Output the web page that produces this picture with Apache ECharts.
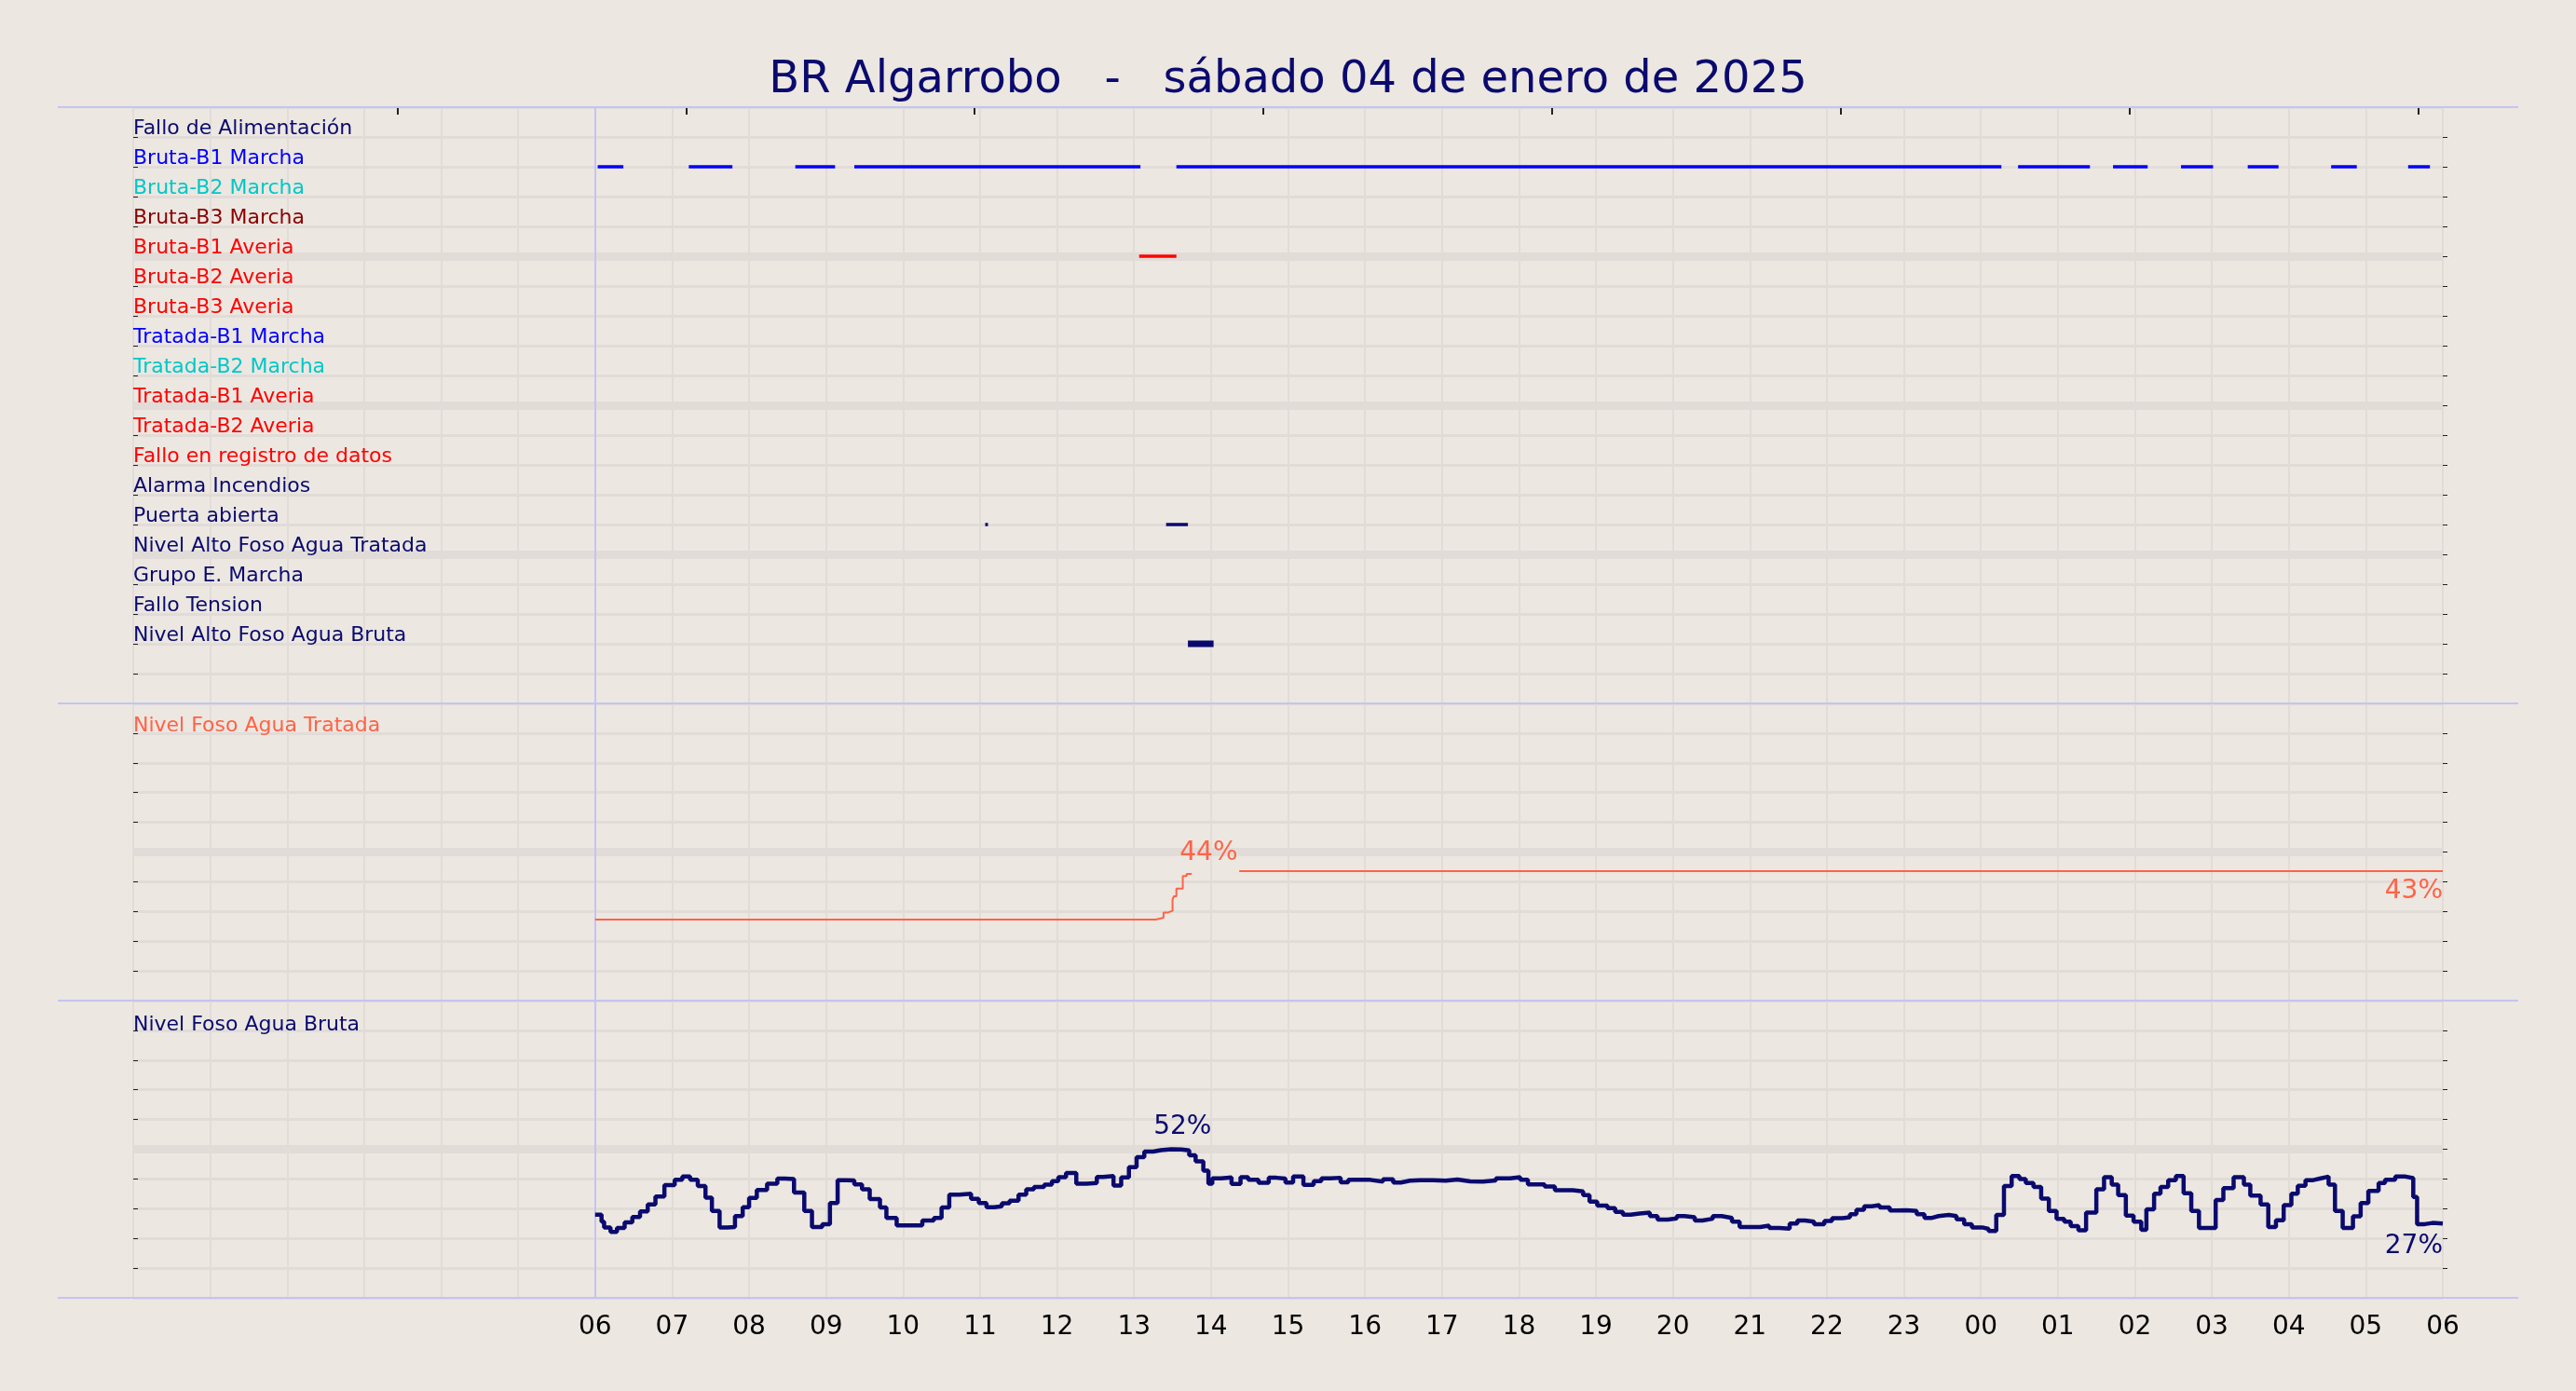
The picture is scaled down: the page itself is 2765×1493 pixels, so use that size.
<!DOCTYPE html>
<html><head><meta charset="utf-8">
<script src="https://cdn.jsdelivr.net/npm/echarts@6/dist/echarts.min.js"></script>
<style>html,body{margin:0;padding:0;background:#ece7e1}#c{width:2765px;height:1493px}</style>
</head><body><div id="c"></div>
<script>
const titleText = 'BR Algarrobo   -   sábado 04 de enero de 2025';
const rowLabels = ['Fallo de Alimentación','Bruta-B1 Marcha','Bruta-B2 Marcha','Bruta-B3 Marcha','Bruta-B1 Averia','Bruta-B2 Averia','Bruta-B3 Averia','Tratada-B1 Marcha','Tratada-B2 Marcha','Tratada-B1 Averia','Tratada-B2 Averia','Fallo en registro de datos','Alarma Incendios','Puerta abierta','Nivel Alto Foso Agua Tratada','Grupo E. Marcha','Fallo Tension','Nivel Alto Foso Agua Bruta'];
const rowColors = ['#0a0a6e','#0000ff','#00c8c8','#8b0000','#ff0000','#ff0000','#ff0000','#0000ff','#00c8c8','#ff0000','#ff0000','#ff0000','#0a0a6e','#0a0a6e','#0a0a6e','#0a0a6e','#0a0a6e','#0a0a6e'];
// events: [row label index, start, end, thick]
const eventRows = [1,1,1,1,1,1,1,1,1,1,1,4,13,13,17];
const eventStart = ['06:02','07:13','08:36','09:22','13:33','00:29','01:43','02:36','03:28','04:33','05:33','13:04','11:04','13:25','13:42'];
const eventEnd   = ['06:22','07:47','09:07','13:05','00:16','01:25','02:10','03:01','03:52','04:53','05:50','13:33','11:05','13:42','14:02'];
const eventThick = [0,0,0,0,0,0,0,0,0,0,0,0,0,0,1];

const tratadaTimes = ['06:00','13:17','13:23','13:26','13:30','13:31','13:33','13:38','13:41','13:45',null,'14:22','06:00'];
const tratadaValues = [27.3,27.9,29.6,30.2,34,35.1,37.7,41.9,42.6,42.6,null,43.6,43.6];
const tratadaLabels = ['44%','43%'];

const brutaMinutes = [0,5,7,12,17,23,29,35,41,47,54,62,68,74,80,86,91,97,103,109,115,120,126,134,142,148,155,163,169,177,183,189,196,202,208,214,222,227,235,243,255,264,270,276,284,293,299,305,311,317,323,330,336,342,350,356,361,367,375,383,391,396,404,410,416,422,428,435,441,449,457,463,468,474,478,481,488,496,503,509,517,525,531,538,544,552,560,566,573,581,587,595,604,614,622,628,635,643,653,663,672,682,692,702,713,721,727,733,740,748,754,762,770,775,781,789,795,801,807,814,822,828,836,843,849,857,863,871,878,886,892,900,908,915,923,931,937,943,950,958,964,972,978,983,989,995,1001,1009,1014,1022,1030,1036,1042,1047,1055,1061,1067,1073,1081,1086,1092,1098,1104,1110,1115,1121,1127,1133,1139,1145,1150,1156,1162,1170,1176,1182,1187,1193,1199,1205,1209,1215,1220,1226,1232,1238,1244,1250,1255,1263,1269,1277,1285,1290,1298,1304,1310,1316,1322,1327,1333,1339,1345,1351,1356,1362,1370,1376,1382,1390,1395,1403,1411,1417,1420,1426,1432,1440];
const brutaValues = [30,27.6,25.7,24.2,25.5,27.4,29.2,31.1,33.4,36.1,39.9,41.7,42.8,41.7,39.6,35.7,31.2,25.7,25.8,29.5,32.5,35.6,38.3,40.4,42.1,42.0,37.4,31.2,25.8,26.8,33.9,41.6,41.5,40.2,38.5,35.2,32.4,28.9,26.4,26.4,28,28.9,32.4,36.7,37,35.3,33.9,32.5,32.8,33.8,34.7,36.7,38.5,39.3,40.1,41.3,42.6,44.0,40.4,40.6,42.7,43,39.8,42.5,46,49.3,51.2,51.7,52,51.9,51.6,50,47.9,44.8,40.4,42.2,42.5,40.3,42.6,41.7,40.7,42.4,42.1,40.8,42.8,40,41.3,42.2,42.4,40.9,41.7,41.7,41.1,41.9,40.8,41.4,41.6,41.6,41.4,41.8,41.2,41.1,41.5,42.2,42.6,41.7,40.2,40.2,39.5,38.2,38.2,37.8,36.6,34.4,33,32.2,30.9,30,30.4,30.7,29.5,28.3,28.7,29.5,29.1,28,28.6,29.5,28.9,27.6,25.8,25.8,26.3,25.5,25.3,27,28,27.6,26.8,27.9,28.8,29.1,30.1,31.6,32.8,33.2,32.4,31.4,31.5,31.2,30.1,28.9,29.5,29.9,29.5,28.4,26.8,25.7,25.2,24.5,29.9,39.6,43,42,40.6,39.3,35.4,31.25,28.6,27.6,26.1,24.7,30.7,38.5,42.6,40.1,36.6,29.7,27.6,24.9,31.8,37,39.3,41.6,43,37.2,31.25,25.5,25.5,34.9,38.9,42.6,40.1,36.4,33.4,25.8,28.1,33.2,37,39.7,41.6,42.2,42.8,40.1,31.25,25.5,29.4,33.9,38,40.6,41.7,42.8,42.3,35.9,26.8,27.2,27];
const brutaLabels = ['52%','27%'];
const topTickHours = [3.43,7.18,10.93,14.68,18.43,22.18,25.93,29.68];

function toHour(t){ const [h,m]=t.split(':').map(Number); return (h<6?h+24:h)+m/60; }
const navy = '#0a0a6e', tomato = '#ff6347', lav = '#c4c4f2', gridC = '#e1dcd8';

const evData = eventRows.map((r,i)=>[toHour(eventStart[i]), toHour(eventEnd[i]), 19-r, eventThick[i], r]);
const tratadaData = tratadaTimes.map((t,i)=> t===null ? '-' : [ (i===tratadaTimes.length-1)?30:toHour(t), tratadaValues[i]]);
tratadaData[0][0]=6;
const brutaData = brutaMinutes.map((m,i)=>[6+m/60, brutaValues[i]]);

const rich = {}; rowColors.forEach((c,i)=>{ rich['r'+i] = {color:c, fontSize:22, fontFamily:'DejaVu Sans', lineHeight:18}; });

const grids = [{top:115,height:640},{top:755,height:319},{top:1074,height:319}].map(g=>({left:143,width:2479,top:g.top,height:g.height}));
function xAx(i){ return {type:'value',gridIndex:i,min:0,max:30,interval:1,
  axisLine:{show:false},axisTick:{show:false},
  axisLabel:{show:i===2,fontSize:28,color:'#000',fontFamily:'DejaVu Sans',margin:18,formatter:v=> v<6?'':String(v%24).padStart(2,'0')},
  splitLine:{show:true,lineStyle:{color:gridC,width:2}}}; }
function yAx(i,min,max,interval){ return {type:'value',gridIndex:i,min:min,max:max,interval:interval,
  axisLine:{show:false},axisTick:{show:true,inside:true,length:5,lineStyle:{color:'#222'}},axisLabel:{show:false},
  splitLine:{show:true,lineStyle:{color:gridC,width:3}}}; }
function yR(i,min,max,interval){ return {type:'value',gridIndex:i,min:min,max:max,interval:interval,position:'right',
  axisLine:{show:false},axisTick:{show:true,length:5,lineStyle:{color:'#222'}},axisLabel:{show:false},splitLine:{show:false}}; }
const labelAxis = {type:'value',gridIndex:0,min:0,max:20,interval:1,z:10,position:'left',
  axisLine:{show:false},axisTick:{show:false},splitLine:{show:false},
  axisLabel:{show:true,inside:true,verticalAlign:'bottom',margin:0,formatter:v=>{const k=19-v; return (k>=0&&k<rowLabels.length&&v>=2)?'{r'+k+'|'+rowLabels[k]+'}':'';},rich:rich}};
const thickSeries = (i,vals)=>({type:'line',xAxisIndex:i,yAxisIndex:i,data:[],z:1,markLine:{silent:true,symbol:'none',label:{show:false},lineStyle:{color:gridC,width:9,type:'solid'},data:vals.map(v=>({yAxis:v}))}});
const sixSeries = (i)=>({type:'line',xAxisIndex:i,yAxisIndex:i,data:[],z:1,markLine:{silent:true,symbol:'none',label:{show:false},lineStyle:{color:lav,width:2,type:'solid'},data:[{xAxis:6}]}});
const topTickSeries = {type:'line',xAxisIndex:0,yAxisIndex:0,data:[],z:1,markLine:{silent:true,symbol:'none',label:{show:false},lineStyle:{color:'#222',width:2,type:'solid'},
  data:topTickHours.map(h=>[{coord:[h,20]},{coord:[h,19.75]}])}};

const chart = echarts.init(document.getElementById('c'));
chart.setOption({
  backgroundColor:'#ece7e1', animation:false,
  title:{text:titleText,left:'center',top:58,textStyle:{fontSize:48,fontWeight:'normal',color:navy,fontFamily:'DejaVu Sans'}},
  grid:grids,
  xAxis:[xAx(0),xAx(1),xAx(2)],
  yAxis:[yAx(0,0,20,1),yAx(1,0,100,10),yAx(2,2,102,10),yR(0,0,20,1),yR(1,0,100,10),yR(2,2,102,10),labelAxis],
  graphic:[
    {type:'line',z:50,shape:{x1:62,y1:115,x2:2703,y2:115},style:{stroke:lav,lineWidth:2}},
    {type:'line',z:50,shape:{x1:62,y1:755,x2:2703,y2:755},style:{stroke:lav,lineWidth:2}},
    {type:'line',z:50,shape:{x1:62,y1:1074,x2:2703,y2:1074},style:{stroke:lav,lineWidth:2}},
    {type:'line',z:50,shape:{x1:62,y1:1393,x2:2703,y2:1393},style:{stroke:lav,lineWidth:2}},
    {type:'text',z:100,left:143,top:768,style:{text:'Nivel Foso Agua Tratada',fill:tomato,fontSize:22,fontFamily:'DejaVu Sans'}},
    {type:'text',z:100,left:143,top:1089,style:{text:'Nivel Foso Agua Bruta',fill:navy,fontSize:22,fontFamily:'DejaVu Sans'}}
  ],
  series:[
    thickSeries(0,[15,10,5]), thickSeries(1,[50]), thickSeries(2,[52]),
    sixSeries(0), sixSeries(1), sixSeries(2), topTickSeries,
    {type:'custom',xAxisIndex:0,yAxisIndex:0,z:5,data:evData,encode:{x:[0,1],y:2},
      renderItem:(p,api)=>{const a=api.coord([api.value(0),api.value(2)]), b=api.coord([api.value(1),api.value(2)]);
        const h=api.value(3)?7:3.5; const c=rowColors[api.value(4)];
        return {type:'rect',shape:{x:a[0],y:a[1]-h/2,width:Math.max(b[0]-a[0],3),height:h},style:{fill:c}};}},
    {type:'line',xAxisIndex:1,yAxisIndex:1,z:5,data:tratadaData,step:'end',symbol:'none',connectNulls:false,
      lineStyle:{color:tomato,width:2},
      markPoint:{symbol:'circle',symbolSize:0,data:[
        {coord:[13.97,42.6],value:tratadaLabels[0],label:{show:true,formatter:'{c}',offset:[0,-22],color:tomato,fontSize:28,fontFamily:'DejaVu Sans'}},
        {coord:[30,43.6],value:tratadaLabels[1],label:{show:true,formatter:'{c}',align:'right',offset:[0,22],color:tomato,fontSize:28,fontFamily:'DejaVu Sans'}}]}},
    {type:'line',xAxisIndex:2,yAxisIndex:2,z:5,data:brutaData,step:'end',symbol:'none',
      lineStyle:{color:navy,width:4.5},
      markPoint:{symbol:'circle',symbolSize:0,data:[
        {coord:[13.63,52],value:brutaLabels[0],label:{show:true,formatter:'{c}',offset:[0,-24],color:navy,fontSize:28,fontFamily:'DejaVu Sans'}},
        {coord:[30,27],value:brutaLabels[1],label:{show:true,formatter:'{c}',align:'right',offset:[0,24],color:navy,fontSize:28,fontFamily:'DejaVu Sans'}}]}}
  ]
});
</script></body></html>
